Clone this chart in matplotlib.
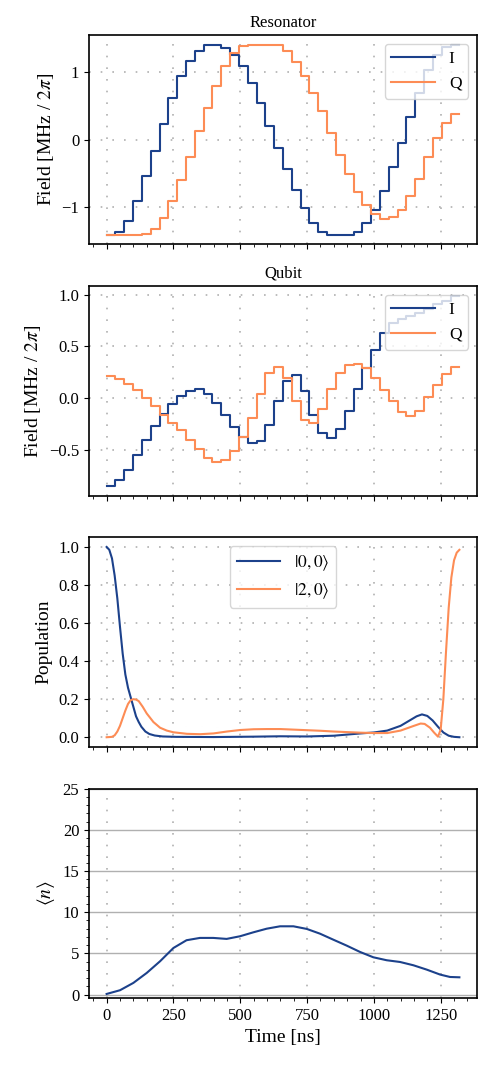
import numpy as np
import matplotlib
matplotlib.use("Agg")
import matplotlib.pyplot as plt
from matplotlib.ticker import MultipleLocator


# =============================================================================
# Data
# =============================================================================

STEP_NS = 33.0

res_i = [-1.41, -1.37, -1.20, -0.90, -0.54, -0.16, 0.23, 0.62, 0.94, 1.17,
         1.32, 1.40, 1.40, 1.36, 1.26, 1.09, 0.84, 0.54, 0.20, -0.12,
         -0.44, -0.74, -1.01, -1.23, -1.36, -1.41, -1.41, -1.41, -1.36, -1.23,
         -1.04, -0.76, -0.41, -0.05, 0.34, 0.70, 1.04, 1.26, 1.37, 1.41]
res_q = [-1.41, -1.41, -1.41, -1.41, -1.40, -1.32, -1.16, -0.91, -0.60, -0.26,
         0.13, 0.47, 0.80, 1.10, 1.29, 1.39, 1.41, 1.41, 1.41, 1.41,
         1.31, 1.16, 0.94, 0.70, 0.42, 0.10, -0.22, -0.51, -0.78, -0.96,
         -1.10, -1.17, -1.15, -1.04, -0.84, -0.58, -0.26, 0.03, 0.25, 0.38]

qub_i = [-0.85, -0.79, -0.69, -0.55, -0.40, -0.27, -0.15, -0.06, 0.02, 0.07,
         0.085, 0.04, -0.045, -0.16, -0.28, -0.375, -0.43, -0.41, -0.26, -0.03,
         0.17, 0.22, 0.07, -0.165, -0.34, -0.385, -0.30, -0.12, 0.085, 0.29,
         0.47, 0.63, 0.73, 0.77, 0.79, 0.82, 0.86, 0.91, 0.94, 0.99]
qub_q = [0.21, 0.19, 0.14, 0.08, 0.0, -0.08, -0.16, -0.24, -0.31, -0.40,
         -0.49, -0.58, -0.62, -0.60, -0.51, -0.38, -0.19, 0.04, 0.24, 0.30,
         0.20, -0.03, -0.215, -0.24, -0.10, 0.085, 0.24, 0.32, 0.33, 0.29,
         0.20, 0.08, -0.03, -0.13, -0.17, -0.12, 0.01, 0.13, 0.235, 0.30]

pop00_t = [0, 10, 20, 30, 40, 50, 60, 70, 80, 90, 100, 110, 120, 130, 145,
           160, 180, 210, 260, 400, 550, 650, 750, 850, 950, 1000, 1050,
           1100, 1130, 1160, 1180, 1200, 1220, 1240, 1260, 1280, 1300, 1320]
pop00 = [1.0, 0.985, 0.94, 0.85, 0.73, 0.58, 0.44, 0.33, 0.26, 0.21, 0.16,
         0.11, 0.08, 0.055, 0.03, 0.017, 0.009, 0.004, 0.002, 0.001, 0.003,
         0.005, 0.004, 0.008, 0.02, 0.025, 0.035, 0.06, 0.085, 0.11, 0.12,
         0.112, 0.088, 0.055, 0.025, 0.008, 0.002, 0.0]

pop20_t = [0, 20, 30, 40, 50, 60, 70, 80, 90, 100, 110, 120, 135, 150, 175,
           200, 225, 250, 300, 350, 400, 450, 500, 550, 600, 650, 700, 750,
           800, 850, 900, 950, 1000, 1050, 1100, 1150, 1175, 1190, 1210, 1225,
           1240, 1250, 1260, 1270, 1280, 1290, 1300, 1310, 1320]
pop20 = [0.0, 0.002, 0.01, 0.03, 0.06, 0.10, 0.14, 0.175, 0.195, 0.20, 0.198,
         0.19, 0.16, 0.125, 0.08, 0.05, 0.035, 0.026, 0.018, 0.016, 0.02,
         0.03, 0.038, 0.042, 0.043, 0.043, 0.04, 0.037, 0.034, 0.03, 0.027,
         0.024, 0.022, 0.022, 0.035, 0.06, 0.072, 0.07, 0.05, 0.025, 0.003,
         0.04, 0.2, 0.45, 0.68, 0.84, 0.93, 0.97, 0.985]

nbar_t = [0, 50, 100, 150, 200, 250, 299, 349, 399, 449, 499, 549, 599, 649,
          699, 749, 798, 848, 898, 948, 998, 1048, 1098, 1148, 1198, 1248,
          1285, 1320]
nbar = [0.08, 0.53, 1.42, 2.63, 4.05, 5.66, 6.6, 6.88, 6.88, 6.76, 7.08, 7.56,
        8.0, 8.29, 8.29, 7.97, 7.4, 6.67, 5.95, 5.18, 4.53, 4.17, 3.96, 3.56,
        3.03, 2.43, 2.14, 2.1]

BLUE = "#1c418b"
ORANGE = "#fd8c55"
GRID = "#b0b0b0"
DOTS = (0, (1, 6))

TICK_FS = 12
LABEL_FS = 14
TITLE_FS = 12
LEGEND_FS = 12.5


# =============================================================================
# Plotting
# =============================================================================

plt.rcParams["font.family"] = ["Liberation Serif", "DejaVu Serif"]
plt.rcParams["mathtext.fontset"] = "stix"
plt.rcParams["axes.linewidth"] = 1.2


def step_plot(ax, vals, color, label):
    t = np.arange(len(vals) + 1) * STEP_NS
    y = np.append(vals, vals[-1])
    ax.step(t, y, where="post", color=color, lw=1.5, label=label)


def style_axis(ax):
    ax.grid(True, which="major", linestyle=DOTS, color=GRID, lw=1.2)
    ax.xaxis.set_major_locator(MultipleLocator(250))
    ax.xaxis.set_minor_locator(MultipleLocator(50))
    ax.tick_params(labelsize=TICK_FS)


fig, axes = plt.subplots(4, 1, figsize=(4.89, 10.65), dpi=100, sharex=True)
fig.subplots_adjust(left=0.182, right=0.9755, top=0.967, bottom=0.063,
                    hspace=0.2)

ax = axes[0]
step_plot(ax, res_i, BLUE, "I")
step_plot(ax, res_q, ORANGE, "Q")
style_axis(ax)
ax.set_title("Resonator", fontsize=TITLE_FS)
ax.set_ylabel(r"Field [MHz / $2\pi$]", fontsize=LABEL_FS)
ax.set_yticks([-1, 0, 1])
ax.legend(loc="upper right", fontsize=LEGEND_FS, handlelength=2.5)

ax = axes[1]
step_plot(ax, qub_i, BLUE, "I")
step_plot(ax, qub_q, ORANGE, "Q")
style_axis(ax)
ax.set_title("Qubit", fontsize=TITLE_FS)
ax.set_ylabel(r"Field [MHz / $2\pi$]", fontsize=LABEL_FS)
ax.set_yticks([-0.5, 0.0, 0.5, 1.0])
ax.legend(loc="upper right", fontsize=LEGEND_FS, handlelength=2.5)

ax = axes[2]
ax.plot(pop00_t, pop00, color=BLUE, lw=1.5, label=r"$|0,0\rangle$")
ax.plot(pop20_t, pop20, color=ORANGE, lw=1.5, label=r"$|2,0\rangle$")
style_axis(ax)
ax.set_ylabel("Population", fontsize=LABEL_FS)
ax.set_yticks([0.0, 0.2, 0.4, 0.6, 0.8, 1.0])
ax.legend(loc="upper center", fontsize=LEGEND_FS, handlelength=2.5)

ax = axes[3]
ax.plot(nbar_t, nbar, color=BLUE, lw=1.5)
ax.xaxis.set_major_locator(MultipleLocator(250))
ax.xaxis.set_minor_locator(MultipleLocator(50))
ax.grid(True, axis="x", linestyle=DOTS, color=GRID, lw=1.2)
ax.grid(True, axis="y", linestyle="-", color=GRID, lw=1.0)
ax.set_ylim(-0.4, 25)
ax.yaxis.set_major_locator(MultipleLocator(5))
ax.yaxis.set_minor_locator(MultipleLocator(1))
ax.tick_params(labelsize=TICK_FS)
ax.set_ylabel(r"$\langle n\rangle$", fontsize=LABEL_FS)
ax.set_xlabel("Time [ns]", fontsize=LABEL_FS)

fig.savefig("out.png", dpi=100)
